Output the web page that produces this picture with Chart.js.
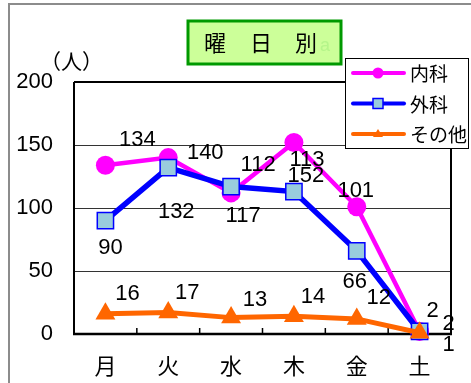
<!DOCTYPE html>
<html>
<head>
<meta charset="utf-8">
<script src="https://cdn.jsdelivr.net/npm/chart.js@4"></script>
<style>
    html, body { margin: 0; padding: 0; background: #ffffff; }
    #wrap { position: relative; width: 471px; height: 383px; }
</style>
</head>
<body>
<div id="wrap"><canvas id="chart" width="471" height="383"></canvas></div>
<script>
// 曜日別 データ
const days = ['月', '火', '水', '木', '金', '土'];
const naika = [134, 140, 112, 152, 101, 2];
const geka = [90, 132, 117, 113, 66, 2];
const sonota = [16, 17, 13, 14, 12, 1];
const yTicks = [0, 50, 100, 150, 200];

// ラベルの位置ずらし (px)
const naikaLabelOffset = [[32, -25], [37, -5], [27, -28], [12, 33], [-1, -16], [13, -21]];
const gekaLabelOffset = [[5, 27], [8, 44], [12, 29], [13, -32], [-2, 31], [29, -8]];
const sonotaLabelOffset = [[22, -20], [19, -20], [24, -18], [19, -19], [22, -21], [29, 12]];

const NUM_FONT = '"Liberation Sans", Arial, sans-serif';
const JP_FONT = '"Noto Sans CJK JP", sans-serif';

const colors = {
    naika: '#ff00ff',
    geka: '#0000ff',
    gekaFill: '#99ccdd',
    sonota: '#ff6600',
    frame: '#8c8c8c',
    titleBorder: '#009900',
    titleFill: '#ccff99'
};

// 外枠・タイトル・単位
const framePlugin = {
    id: 'frame',
    beforeDraw(chart) {
        const ctx = chart.ctx;
        ctx.save();
        ctx.fillStyle = '#ffffff';
        ctx.fillRect(0, 0, chart.width, chart.height);
        ctx.strokeStyle = colors.frame;
        ctx.lineWidth = 2;
        ctx.beginPath();
        ctx.moveTo(9, chart.height);
        ctx.lineTo(9, 4);
        ctx.lineTo(chart.width, 4);
        ctx.stroke();

        // タイトルボックス
        ctx.fillStyle = colors.titleFill;
        ctx.fillRect(188, 21, 153, 43);
        ctx.strokeStyle = colors.titleBorder;
        ctx.lineWidth = 3;
        ctx.strokeRect(188, 21, 153, 43);
        ctx.fillStyle = '#000000';
        ctx.font = '22px ' + JP_FONT;
        ctx.textBaseline = 'middle';
        ctx.textAlign = 'left';
        ctx.fillText('曜', 204, 43);
        ctx.fillText('日', 250, 43);
        ctx.fillText('別', 295, 43);
        ctx.fillStyle = '#b5f58a';
        ctx.font = '18px ' + NUM_FONT;
        ctx.fillText('a', 320, 46);

        // 単位
        ctx.fillStyle = '#000000';
        ctx.font = '21px ' + JP_FONT;
        ctx.fillText('（人）', 40, 61);
        ctx.restore();
    }
};

// プロット枠と目盛り
const borderPlugin = {
    id: 'plotBorder',
    beforeDatasetsDraw(chart) {
        const ctx = chart.ctx;
        const a = chart.chartArea;
        const x = chart.scales.x;
        ctx.save();
        ctx.strokeStyle = '#000000';
        ctx.lineWidth = 2;
        ctx.beginPath();
        ctx.moveTo(a.left, a.top);
        ctx.lineTo(a.right, a.top);
        ctx.lineTo(a.right, a.bottom);
        ctx.moveTo(a.left, a.top);
        ctx.lineTo(a.left, a.bottom);
        ctx.stroke();
        ctx.lineWidth = 2.5;
        ctx.beginPath();
        ctx.moveTo(a.left - 1, a.bottom);
        ctx.lineTo(a.right + 1, a.bottom);
        ctx.stroke();
        ctx.lineWidth = 1.5;
        ctx.beginPath();
        for (let i = 1; i < days.length; i++) {
            const bx = (x.getPixelForValue(i - 1) + x.getPixelForValue(i)) / 2;
            ctx.moveTo(bx, a.bottom);
            ctx.lineTo(bx, a.bottom - 6);
        }
        ctx.stroke();
        ctx.restore();
    }
};

// データラベル
const labelPlugin = {
    id: 'valueLabels',
    afterDatasetsDraw(chart) {
        const ctx = chart.ctx;
        const offsets = [naikaLabelOffset, gekaLabelOffset, sonotaLabelOffset];
        ctx.save();
        ctx.font = '22px ' + NUM_FONT;
        ctx.fillStyle = '#000000';
        ctx.textAlign = 'center';
        ctx.textBaseline = 'middle';
        chart.data.datasets.forEach((ds, di) => {
            const meta = chart.getDatasetMeta(di);
            meta.data.forEach((pt, i) => {
                const off = offsets[di][i];
                ctx.fillText(String(ds.data[i]), pt.x + off[0], pt.y + off[1]);
            });
        });
        ctx.restore();
    }
};

// 凡例
const legendPlugin = {
    id: 'boxLegend',
    afterDraw(chart) {
        const ctx = chart.ctx;
        const bx = 345, by = 58, bw = 124, bh = 91;
        ctx.save();
        ctx.fillStyle = '#ffffff';
        ctx.fillRect(bx, by, bw, bh);
        ctx.strokeStyle = '#000000';
        ctx.lineWidth = 1;
        ctx.strokeRect(bx + 0.5, by + 0.5, bw - 1, bh - 1);
        const rows = [
            { text: '内科', color: colors.naika, style: 'circle' },
            { text: '外科', color: colors.geka, style: 'rect' },
            { text: 'その他', color: colors.sonota, style: 'triangle' }
        ];
        rows.forEach((r, i) => {
            const cy = 73 + i * 30.5;
            ctx.strokeStyle = r.color;
            ctx.lineWidth = 4;
            ctx.lineCap = 'round';
            ctx.beginPath();
            ctx.moveTo(353, cy);
            ctx.lineTo(404, cy);
            ctx.stroke();
            ctx.lineCap = 'butt';
            if (r.style === 'circle') {
                ctx.fillStyle = r.color;
                ctx.beginPath();
                ctx.arc(378, cy, 5.5, 0, Math.PI * 2);
                ctx.fill();
            } else if (r.style === 'rect') {
                ctx.fillStyle = colors.gekaFill;
                ctx.fillRect(373, cy - 5, 10, 10);
                ctx.lineWidth = 1.5;
                ctx.strokeRect(373, cy - 5, 10, 10);
            } else {
                ctx.fillStyle = r.color;
                ctx.beginPath();
                ctx.moveTo(378, cy - 5);
                ctx.lineTo(383, cy + 3);
                ctx.lineTo(373, cy + 3);
                ctx.closePath();
                ctx.fill();
            }
            ctx.fillStyle = '#000000';
            ctx.font = '19px ' + JP_FONT;
            ctx.textBaseline = 'middle';
            ctx.textAlign = 'left';
            ctx.fillText(r.text, 410, cy + 1);
        });
        ctx.restore();
    }
};

const ctx = document.getElementById('chart').getContext('2d');
new Chart(ctx, {
    type: 'line',
    data: {
        labels: days,
        datasets: [
            {
                label: '内科',
                data: naika,
                borderColor: colors.naika,
                backgroundColor: colors.naika,
                borderWidth: 4.5,
                pointStyle: 'circle',
                pointRadius: 9.5,
                pointBorderWidth: 0,
                pointBackgroundColor: colors.naika,
                order: 3
            },
            {
                label: '外科',
                data: geka,
                borderColor: colors.geka,
                backgroundColor: colors.gekaFill,
                borderWidth: 5.5,
                pointStyle: 'rect',
                pointRadius: 11.5,
                pointBorderWidth: 1.5,
                pointBorderColor: colors.geka,
                pointBackgroundColor: colors.gekaFill,
                order: 2
            },
            {
                label: 'その他',
                data: sonota,
                borderColor: colors.sonota,
                backgroundColor: colors.sonota,
                borderWidth: 5,
                pointStyle: 'triangle',
                pointRadius: 11.5,
                pointBorderWidth: 0,
                pointBackgroundColor: colors.sonota,
                order: 1
            }
        ]
    },
    options: {
        responsive: false,
        animation: false,
        clip: false,
        layout: {
            padding: { top: 82, right: 20, left: 0, bottom: 0 }
        },
        plugins: {
            legend: { display: false },
            tooltip: { enabled: false }
        },
        scales: {
            x: {
                offset: true,
                grid: { display: false, drawTicks: false },
                border: { display: false },
                ticks: {
                    padding: 18,
                    color: '#000000',
                    font: { family: JP_FONT, size: 22 }
                },
                afterFit(scale) { scale.height = 49; }
            },
            y: {
                min: 0,
                max: 200,
                afterBuildTicks(scale) {
                    scale.ticks = yTicks.map(v => ({ value: v }));
                },
                grid: {
                    drawTicks: false,
                    color: (c) => (c.tick.value === 0 || c.tick.value === 200) ? 'rgba(0,0,0,0)' : '#333333',
                    lineWidth: 1
                },
                border: { display: false },
                ticks: {
                    padding: 21,
                    color: '#000000',
                    font: { family: NUM_FONT, size: 22 }
                },
                afterFit(scale) { scale.width = 74; }
            }
        }
    },
    plugins: [framePlugin, borderPlugin, labelPlugin, legendPlugin]
});
</script>
</body>
</html>
